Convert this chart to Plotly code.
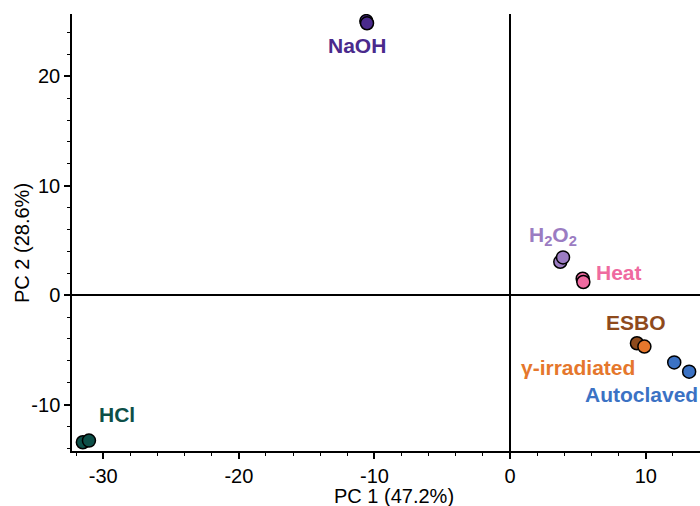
import plotly.graph_objects as go

groups = ["NaOH", "HCl", "H2O2", "Heat", "ESBO", "γ-irradiated", "Autoclaved"]
pc1 = {
    "NaOH": [-10.6, -10.55],
    "HCl": [-31.5, -31.05],
    "H2O2": [3.7, 3.9],
    "Heat": [5.35, 5.4],
    "ESBO": [9.35],
    "γ-irradiated": [9.9],
    "Autoclaved": [12.1, 13.2],
}
pc2 = {
    "NaOH": [25.05, 24.85],
    "HCl": [-13.45, -13.3],
    "H2O2": [3.05, 3.45],
    "Heat": [1.5, 1.2],
    "ESBO": [-4.4],
    "γ-irradiated": [-4.7],
    "Autoclaved": [-6.15, -7.0],
}
colors = {
    "NaOH": "#4a2a8c",
    "HCl": "#0d4f48",
    "H2O2": "#9b7cc2",
    "Heat": "#ef6aa0",
    "ESBO": "#8e4a1c",
    "γ-irradiated": "#e5772c",
    "Autoclaved": "#3b72c4",
}
label_text = {
    "NaOH": "NaOH",
    "HCl": "HCl",
    "H2O2": "H<sub>2</sub>O<sub>2</sub>",
    "Heat": "Heat",
    "ESBO": "ESBO",
    "γ-irradiated": "γ-irradiated",
    "Autoclaved": "Autoclaved",
}
label_x = {"NaOH": -11.3, "HCl": -29.0, "H2O2": 3.17, "Heat": 8.05, "ESBO": 9.3, "γ-irradiated": 5.0, "Autoclaved": 9.65}
label_y = {"NaOH": 22.8, "HCl": -10.9, "H2O2": 5.4, "Heat": 2.1, "ESBO": -2.5, "γ-irradiated": -6.65, "Autoclaved": -9.1}
x_tick_vals = [-30, -20, -10, 0, 10]
x_tick_text = ["-30", "-20", "-10", "0", "10"]
y_tick_vals = [-10, 0, 10, 20]
y_tick_text = ["-10", "0", "10", "20"]
x_title = "PC 1 (47.2%)"
y_title = "PC 2 (28.6%)"

FONT = "Liberation Sans, Arial, Helvetica, sans-serif"

fig = go.Figure()
for g in groups:
    fig.add_trace(go.Scatter(
        x=pc1[g], y=pc2[g], mode="markers", name=g,
        marker=dict(size=13, color=colors[g], line=dict(color="black", width=1.5)),
        showlegend=False,
    ))
    fig.add_annotation(
        x=label_x[g], y=label_y[g], text="<b>" + label_text[g] + "</b>",
        showarrow=False, font=dict(size=21, color=colors[g], family=FONT),
        xanchor="center", yanchor="middle",
    )

axis_common = dict(
    showgrid=False, zeroline=True, zerolinecolor="black", zerolinewidth=1.5,
    showline=True, linecolor="black", linewidth=1.5,
    ticks="outside", ticklen=6, tickwidth=1.5, tickcolor="black",
    minor=dict(ticks="outside", ticklen=3, tickwidth=1, tickcolor="black", dtick=2),
    tickfont=dict(size=20, color="black", family=FONT),
)
fig.update_xaxes(range=[-32.3, 14.0], tickmode="array", tickvals=x_tick_vals, ticktext=x_tick_text, **axis_common)
fig.update_yaxes(range=[-14.25, 25.7], tickmode="array", tickvals=y_tick_vals, ticktext=y_tick_text, **axis_common)

# axis titles (placed precisely in paper coordinates)
fig.add_annotation(xref="paper", yref="paper", x=(394 - 72) / 628, y=(451 - 496) / 437,
                   text=x_title, showarrow=False, xanchor="center", yanchor="middle",
                   font=dict(size=20, color="black", family=FONT))
fig.add_annotation(xref="paper", yref="paper", x=(22 - 72) / 628, y=(451 - 243) / 437,
                   text=y_title, showarrow=False, textangle=-90, xanchor="center", yanchor="middle",
                   font=dict(size=20, color="black", family=FONT))

fig.update_layout(
    width=700, height=506,
    margin=dict(l=72, r=0, t=14, b=55),
    plot_bgcolor="white", paper_bgcolor="white",
    font=dict(family=FONT),
)
fig.write_html("out.html")
